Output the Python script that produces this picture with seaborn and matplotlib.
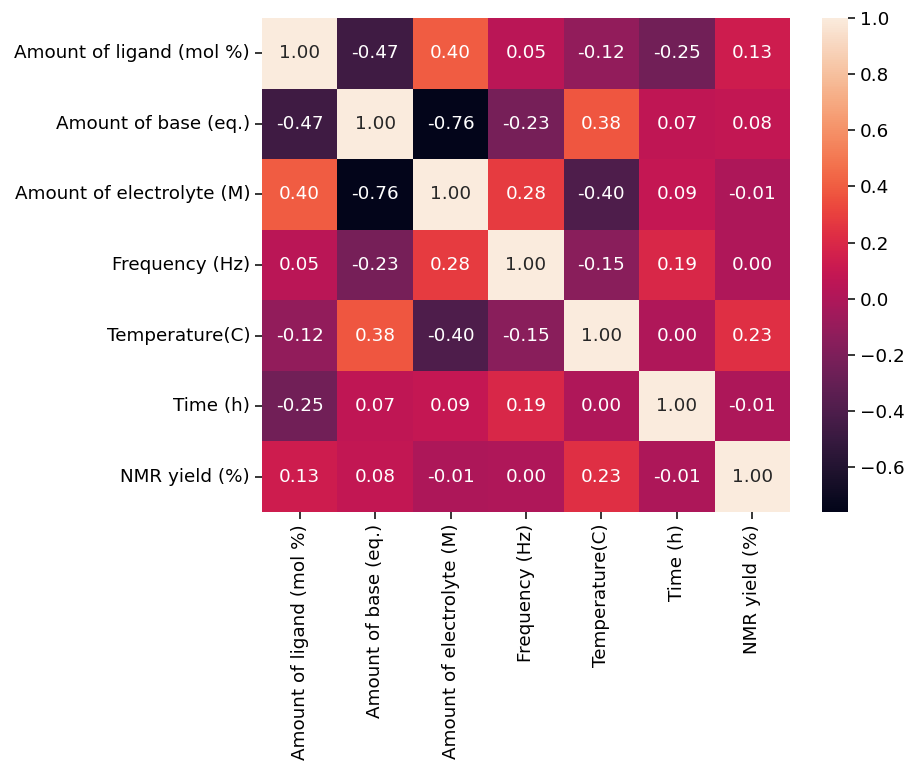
import numpy as np
import pandas as pd
import matplotlib
matplotlib.use('Agg')
import matplotlib.pyplot as plt
import seaborn as sns

labels = ['Amount of ligand (mol %)', 'Amount of base (eq.)', 'Amount of electrolyte (M)',
          'Frequency (Hz)', 'Temperature(C)', 'Time (h)', 'NMR yield (%)']

corr_values = [
    [1.00, -0.47, 0.40, 0.05, -0.12, -0.25, 0.13],
    [-0.47, 1.00, -0.76, -0.23, 0.38, 0.07, 0.08],
    [0.40, -0.76, 1.00, 0.28, -0.40, 0.09, -0.01],
    [0.05, -0.23, 0.28, 1.00, -0.15, 0.19, 0.00],
    [-0.12, 0.38, -0.40, -0.15, 1.00, 0.00, 0.23],
    [-0.25, 0.07, 0.09, 0.19, 0.00, 1.00, -0.01],
    [0.13, 0.08, -0.01, 0.00, 0.23, -0.01, 1.00],
]

corr = pd.DataFrame(corr_values, index=labels, columns=labels)

fs = 13.2
plt.rcParams['font.size'] = fs
fig = plt.figure(figsize=(9.05, 7.63), dpi=100)
ax = fig.add_axes([262 / 905, 1 - 512 / 763, 528 / 905, 494 / 763])
cax = fig.add_axes([822 / 905, 1 - 512 / 763, 26 / 905, 494 / 763])

sns.heatmap(corr, annot=True, fmt='.2f', ax=ax, cbar_ax=cax, annot_kws={'size': fs})
ax.tick_params(labelsize=fs, length=5, width=1.1)
cax.tick_params(labelsize=fs, length=5, width=1.1)

fig.savefig('out.png', dpi=100)
